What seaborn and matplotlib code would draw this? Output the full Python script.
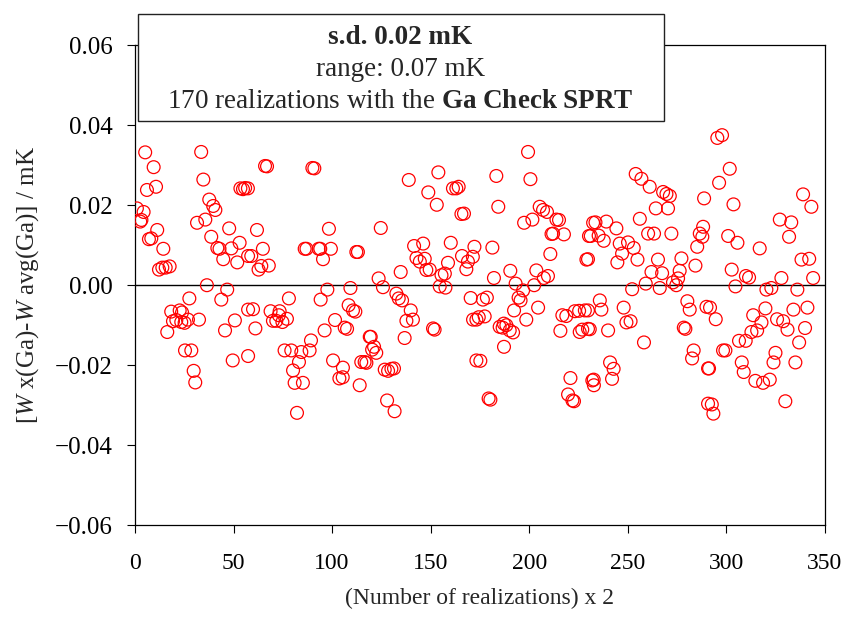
import seaborn as sns
import matplotlib.pyplot as plt
import pandas as pd
from matplotlib.ticker import FuncFormatter

# values (x = point number, y in mK)
x_vals = [
    5.2, 9.5, 6.1, 10.7, 1.0, 4.4, 3.3, 2.7, 11.3, 7.1, 8.3, 14.4, 12.2, 13.9, 15.6, 17.6,
    33.6, 34.7, 37.7, 39.7, 40.8, 35.7, 31.5, 47.8, 38.7, 53.1, 41.8, 42.9, 48.9, 44.8,
    51.9, 53.5, 54.8, 55.9, 57.4, 36.5, 46.8, 43.8, 27.6, 18.4, 22.7, 23.9, 19.3, 21.0,
    23.5, 25.2, 26.9, 32.5, 16.4, 50.7, 45.7, 57.4, 25.4, 28.6, 49.6, 57.4, 29.8, 30.6,
    66.0, 67.0, 90.0, 91.0, 57.3, 61.9, 64.9, 59.0, 62.7, 64.1, 67.9, 98.4, 86.1, 87.0,
    93.2, 94.0, 99.4, 95.4, 112.3, 113.1, 97.6, 109.3, 94.2, 78.1, 59.9, 108.4, 110.6,
    111.8, 68.8, 73.4, 70.0, 71.7, 74.8, 77.1, 73.0, 61.1, 101.5, 96.2, 106.4, 107.6,
    89.3, 75.9, 79.3, 84.4, 88.6, 83.2, 80.2, 81.0, 85.2, 100.5, 105.5, 103.7, 105.4,
    114.8, 114.0, 82.2,
    138.9, 153.9, 148.8, 153.1, 161.3, 163.0, 164.2, 165.6, 166.9, 124.7, 141.6, 146.2,
    160.2, 142.8, 144.5, 147.0, 147.8, 149.5, 158.8, 134.8, 165.9, 168.9, 171.4, 168.1,
    172.2, 157.2, 155.5, 123.6, 154.6, 157.5, 125.8, 132.6, 133.8, 135.5, 139.9, 137.7,
    141.0, 151.2, 152.0, 170.3, 171.5, 173.2, 136.8, 119.1, 119.6, 121.3, 120.3, 122.4,
    116.5, 117.4, 126.7, 128.4, 130.1, 131.4, 173.2, 127.9, 131.7,
    199.4, 183.3, 200.6, 184.3, 205.3, 207.0, 209.0, 201.6, 197.4, 213.8, 215.1, 212.1,
    211.3, 217.6, 232.4, 230.3, 181.3, 210.7, 229.0, 190.4, 203.6, 182.1, 207.4, 209.5,
    193.1, 196.9, 202.5, 194.6, 195.6, 176.5, 178.5, 204.5, 192.3, 198.5, 174.4, 177.4,
    185.0, 187.1, 188.4, 190.1, 191.8, 186.5, 187.2, 175.2, 215.8, 216.8, 218.8, 223.1,
    225.3, 228.2, 225.6, 226.9, 229.8, 179.4, 180.3, 220.9, 219.7, 221.9, 222.7, 232.0,
    232.8,
    254.0, 256.9, 261.1, 267.9, 269.6, 271.3, 288.7, 264.2, 270.4, 256.1, 233.6, 239.1,
    244.2, 231.2, 235.2, 237.8, 260.3, 263.3, 272.1, 288.2, 286.5, 287.8, 245.9, 250.1,
    253.0, 247.1, 244.7, 254.9, 265.3, 277.2, 276.3, 275.5, 285.2, 284.3, 262.0, 267.4,
    229.8, 259.1, 266.2, 272.9, 274.6, 252.2, 235.8, 236.6, 247.9, 280.2, 281.4, 289.9,
    229.8, 230.7, 240.0, 249.3, 251.4, 278.4, 279.2, 258.2, 283.4, 282.6, 241.0, 242.8,
    242.0, 232.7, 290.7, 290.7,
    295.4, 297.8, 301.7, 296.3, 303.6, 338.9, 343.1, 327.1, 332.9, 331.8, 300.9, 305.6,
    316.9, 338.1, 342.0, 302.7, 309.9, 311.5, 327.9, 344.0, 304.6, 320.3, 322.8, 336.0,
    291.7, 294.6, 319.8, 313.6, 317.8, 325.7, 328.8, 331.0, 334.0, 341.1, 339.9, 336.9,
    312.7, 315.6, 306.4, 309.8, 298.3, 299.5, 291.2, 324.9, 323.9, 307.8, 308.8, 335.0,
    314.7, 318.6, 322.0, 292.6, 293.4, 329.9,
]
y_vals = [
    0.0332, 0.0295, 0.0238, 0.0246, 0.0192, 0.0183, 0.0163, 0.0159, 0.0138, 0.0115,
    0.0117, 0.0091, 0.0039, 0.0044, 0.0044, 0.0047,
    0.0333, 0.0264, 0.0214, 0.0198, 0.0188, 0.0164, 0.0156, 0.0142, 0.0121, 0.0106,
    0.0093, 0.0091, 0.0092, 0.0065, 0.0057, 0.0242, 0.0240, 0.0243, 0.0073, 0.0000,
    -0.0011, -0.0036, -0.0033, -0.0066, -0.0063, -0.0068, -0.0090, -0.0087, -0.0092,
    -0.0094, -0.0086, -0.0086, -0.0117, -0.0088, -0.0113, -0.0061, -0.0163, -0.0163,
    -0.0188, -0.0177, -0.0214, -0.0243,
    0.0298, 0.0297, 0.0293, 0.0292, 0.0242, 0.0138, 0.0091, 0.0073, 0.0039, 0.0048,
    0.0049, 0.0141, 0.0091, 0.0091, 0.0091, 0.0091, 0.0091, 0.0065, 0.0083, 0.0083,
    -0.0011, -0.0007, -0.0036, -0.0033, -0.0060, -0.0050, -0.0063, -0.0066, -0.0065,
    -0.0065, -0.0089, -0.0089, -0.0092, -0.0084, -0.0075, -0.0108, -0.0087, -0.0113,
    -0.0106, -0.0109, -0.0138, -0.0163, -0.0163, -0.0167, -0.0163, -0.0192, -0.0213,
    -0.0244, -0.0244, -0.0188, -0.0206, -0.0233, -0.0230, -0.0192, -0.0250, -0.0319,
    0.0263, 0.0282, 0.0232, 0.0201, 0.0242, 0.0242, 0.0246, 0.0178, 0.0179, 0.0143,
    0.0098, 0.0104, 0.0106, 0.0068, 0.0059, 0.0066, 0.0038, 0.0039, 0.0056, 0.0033,
    0.0073, 0.0059, 0.0071, 0.0040, 0.0096, 0.0029, 0.0025, 0.0017, -0.0003, -0.0006,
    -0.0005, -0.0021, -0.0033, -0.0038, -0.0063, -0.0089, -0.0086, -0.0108, -0.0111,
    -0.0032, -0.0086, -0.0086, -0.0132, -0.0129, -0.0129, -0.0154, -0.0161, -0.0169,
    -0.0192, -0.0194, -0.0211, -0.0214, -0.0209, -0.0208, -0.0188, -0.0288, -0.0315,
    0.0333, 0.0273, 0.0265, 0.0196, 0.0196, 0.0188, 0.0183, 0.0164, 0.0156, 0.0164,
    0.0163, 0.0129, 0.0128, 0.0127, 0.0156, 0.0123, 0.0094, 0.0078, 0.0064, 0.0036,
    0.0037, 0.0018, 0.0018, 0.0023, 0.0004, -0.0013, 0.0000, -0.0031, -0.0038, -0.0036,
    -0.0031, -0.0056, -0.0063, -0.0086, -0.0080, -0.0078, -0.0104, -0.0096, -0.0100,
    -0.0113, -0.0118, -0.0106, -0.0154, -0.0189, -0.0114, -0.0075, -0.0077, -0.0065,
    -0.0064, -0.0063, -0.0117, -0.0111, -0.0109, -0.0283, -0.0286, -0.0232, -0.0273,
    -0.0288, -0.0290, -0.0238, -0.0250,
    0.0278, 0.0266, 0.0246, 0.0233, 0.0228, 0.0223, 0.0217, 0.0192, 0.0192, 0.0166,
    0.0157, 0.0159, 0.0142, 0.0123, 0.0124, 0.0111, 0.0129, 0.0129, 0.0129, 0.0146,
    0.0129, 0.0121, 0.0104, 0.0107, 0.0093, 0.0079, 0.0057, 0.0064, 0.0064, 0.0067,
    0.0036, 0.0017, 0.0096, 0.0049, 0.0033, 0.0030, 0.0065, 0.0004, -0.0007, 0.0007,
    0.0000, -0.0010, -0.0038, -0.0061, -0.0056, -0.0040, -0.0061, -0.0054, -0.0063,
    -0.0110, -0.0113, -0.0093, -0.0090, -0.0106, -0.0109, -0.0143, -0.0163, -0.0183,
    -0.0193, -0.0209, -0.0234, -0.0236, -0.0208, -0.0296,
    0.0368, 0.0375, 0.0291, 0.0256, 0.0202, 0.0227, 0.0196, 0.0164, 0.0157, 0.0121,
    0.0123, 0.0106, 0.0092, 0.0064, 0.0066, 0.0039, 0.0023, 0.0019, 0.0018, 0.0018,
    -0.0003, -0.0011, -0.0007, -0.0011, -0.0056, -0.0085, -0.0058, -0.0075, -0.0093,
    -0.0085, -0.0090, -0.0111, -0.0061, -0.0056, -0.0107, -0.0143, -0.0117, -0.0113,
    -0.0139, -0.0139, -0.0163, -0.0163, -0.0208, -0.0169, -0.0193, -0.0193, -0.0217,
    -0.0193, -0.0239, -0.0244, -0.0236, -0.0298, -0.0321, -0.0290,
]

x_ticks = [0, 50, 100, 150, 200, 250, 300, 350]
y_ticks = [-0.06, -0.04, -0.02, 0.00, 0.02, 0.04, 0.06]

sns.set_style("ticks")
plt.rcParams['font.family'] = ['Liberation Serif', 'DejaVu Serif']
plt.rcParams['mathtext.fontset'] = 'custom'
plt.rcParams['mathtext.rm'] = 'Liberation Serif'
plt.rcParams['mathtext.it'] = 'Liberation Serif:italic'
plt.rcParams['mathtext.bf'] = 'Liberation Serif:bold'

df = pd.DataFrame({"n": x_vals, "dW": y_vals})

fig = plt.figure(figsize=(8.54, 6.18), dpi=100)
ax = fig.add_axes([0.158, 0.150, 0.808, 0.777])

ax.axhline(0, color="black", lw=1.0, zorder=1)
sns.scatterplot(x="n", y="dW", data=df, ax=ax, marker="o", s=85,
                facecolors="none", edgecolor="red", linewidth=0.9, zorder=3)

ax.set_xlim(0, 350)
ax.set_ylim(-0.06, 0.06)
ax.set_xticks(x_ticks)
ax.set_yticks(y_ticks)
ax.yaxis.set_major_formatter(FuncFormatter(lambda v, p: f"{v:.2f}".replace("-", "\u2212")))
ax.tick_params(direction="out", length=6, width=0.8, colors="black")
ax.tick_params(axis="y", labelsize=18, pad=10)
ax.tick_params(axis="x", labelsize=17, pad=14)
for sp in ax.spines.values():
    sp.set_color("black")
    sp.set_linewidth(0.9)

ax.set_xlabel("(Number of realizations) x 2", fontsize=17, labelpad=10)
ax.set_ylabel(r"[$\mathit{W}$ x(Ga)-$\mathit{W}$ avg(Ga)] / mK", fontsize=18, labelpad=10)

# annotation box
box = plt.Rectangle((0.162, 0.805), 0.615, 0.173, transform=fig.transFigure,
                    facecolor="white", edgecolor="#222222", lw=1.0, zorder=10)
fig.patches.append(box)
fig.text(0.469, 0.940, "s.d. 0.02 mK", fontsize=19.5, fontweight="bold", ha="center", va="center", zorder=11)
fig.text(0.469, 0.887, "range: 0.07 mK", fontsize=19.5, ha="center", va="center", zorder=11)
fig.text(0.469, 0.835, r"170 realizations with the $\mathbf{Ga\ Check\ SPRT}$",
         fontsize=19.5, ha="center", va="center", zorder=11)

plt.savefig("out.png", dpi=100)
plt.close()
